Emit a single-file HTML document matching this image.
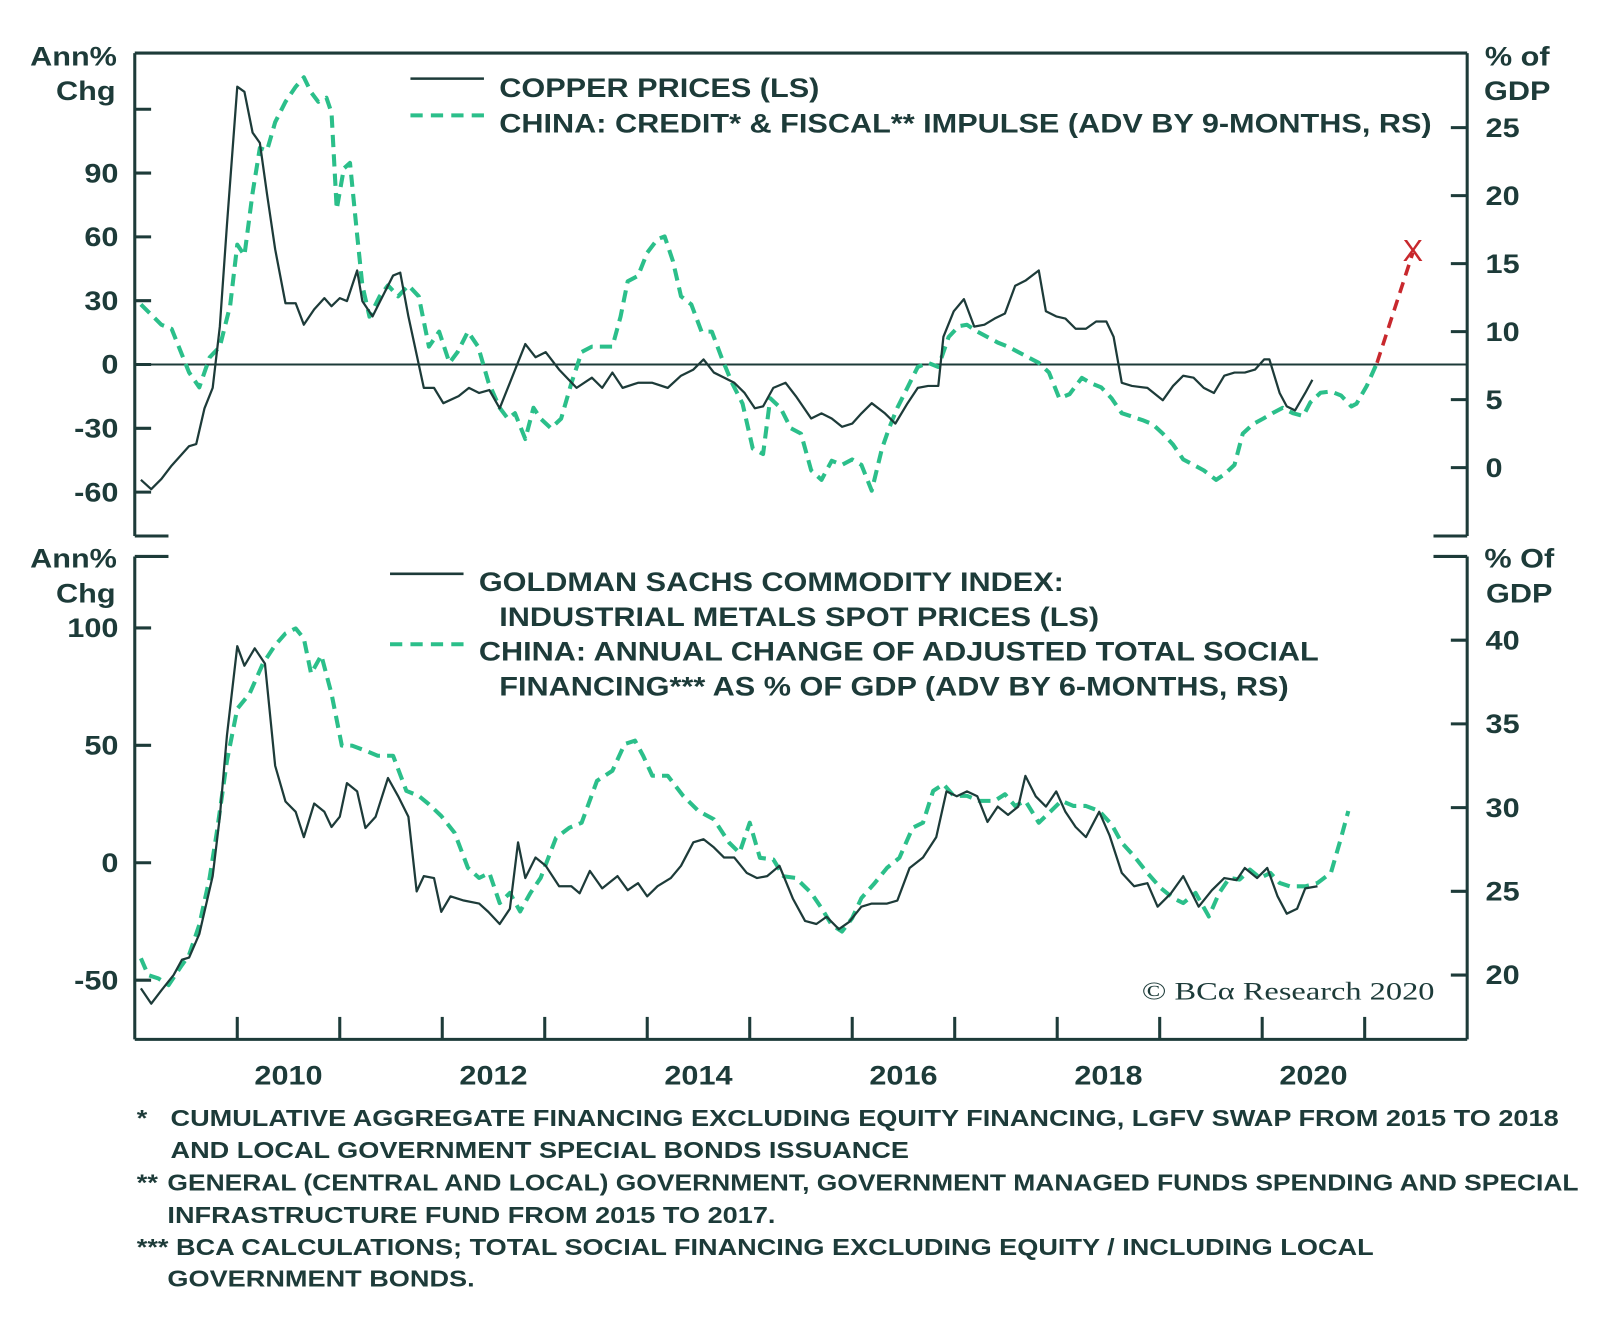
<!DOCTYPE html>
<html><head><meta charset="utf-8"><style>
html,body{margin:0;padding:0;background:#fff;}
svg text{font-family:"Liberation Sans",sans-serif;fill:#1d3b39;font-weight:bold;}
</style></head><body>
<svg id="c" width="1600" height="1314" viewBox="0 0 1600 1314" xmlns="http://www.w3.org/2000/svg">
<g transform="scale(1.021)">
<g id="frame"></g>
<g id="marks"></g>
<g id="labels">
<text x="72" y="64" font-size="26" text-anchor="middle">Ann%</text>
<text x="84" y="98" font-size="26" text-anchor="middle">Chg</text>
<text x="1486" y="64" font-size="26" text-anchor="middle">% of</text>
<text x="1486" y="98" font-size="26" text-anchor="middle">GDP</text>
<text x="72" y="556" font-size="26" text-anchor="middle">Ann%</text>
<text x="84" y="590" font-size="26" text-anchor="middle">Chg</text>
<text x="1488" y="556" font-size="26" text-anchor="middle">% Of</text>
<text x="1488" y="590" font-size="26" text-anchor="middle">GDP</text>
<line x1="402" y1="77" x2="474" y2="77" stroke="#1d3b39" stroke-width="2.5"/>
<line x1="402" y1="113" x2="474" y2="113" stroke="#2bbf8a" stroke-width="4" stroke-dasharray="12,8"/>
<text x="489" y="95" font-size="26">COPPER PRICES (LS)</text>
<text x="489" y="130" font-size="26">CHINA: CREDIT* &amp; FISCAL** IMPULSE (ADV BY 9-MONTHS, RS)</text>
<line x1="382" y1="562" x2="454" y2="562" stroke="#1d3b39" stroke-width="2.5"/>
<line x1="382" y1="631" x2="454" y2="631" stroke="#2bbf8a" stroke-width="4" stroke-dasharray="12,8"/>
<text x="469" y="579" font-size="26">GOLDMAN SACHS COMMODITY INDEX:</text>
<text x="489" y="613" font-size="26">INDUSTRIAL METALS SPOT PRICES (LS)</text>
<text x="469" y="647" font-size="26">CHINA: ANNUAL CHANGE OF ADJUSTED TOTAL SOCIAL</text>
<text x="489" y="681" font-size="26">FINANCING*** AS % OF GDP (ADV BY 6-MONTHS, RS)</text>
<text id="copy" x="1405" y="979" font-size="25" text-anchor="end" style="font-family:'Liberation Serif',serif;font-weight:normal">© BCα Research 2020</text>
<text x="134" y="1103" font-size="23">*</text>
<text x="167" y="1103" font-size="23">CUMULATIVE AGGREGATE FINANCING EXCLUDING EQUITY FINANCING, LGFV SWAP FROM 2015 TO 2018</text>
<text x="167" y="1134" font-size="23">AND LOCAL GOVERNMENT SPECIAL BONDS ISSUANCE</text>
<text x="134" y="1166" font-size="23">**</text>
<text id="fn2" x="164" y="1166" font-size="23">GENERAL (CENTRAL AND LOCAL) GOVERNMENT, GOVERNMENT MANAGED FUNDS SPENDING AND SPECIAL</text>
<text x="164" y="1198" font-size="23">INFRASTRUCTURE FUND FROM 2015 TO 2017.</text>
<text x="134" y="1229" font-size="23">*** BCA CALCULATIONS; TOTAL SOCIAL FINANCING EXCLUDING EQUITY / INCLUDING LOCAL</text>
<text x="164" y="1260" font-size="23">GOVERNMENT BONDS.</text>
</g>
</g>
</svg>
<script>
const copperDates=[2009.06,2009.16,2009.26,2009.36,2009.53,2009.60,2009.68,2009.76,2009.83,2009.90,2010.00,2010.07,2010.15,2010.22,2010.29,2010.37,2010.47,2010.57,2010.65,2010.75,2010.85,2010.92,2011.00,2011.07,2011.17,2011.22,2011.32,2011.42,2011.52,2011.59,2011.67,2011.82,2011.92,2012.01,2012.16,2012.26,2012.36,2012.46,2012.56,2012.66,2012.81,2012.91,2013.01,2013.14,2013.31,2013.46,2013.56,2013.66,2013.76,2013.91,2014.05,2014.20,2014.33,2014.45,2014.55,2014.65,2014.75,2014.85,2014.95,2015.05,2015.13,2015.23,2015.35,2015.45,2015.60,2015.70,2015.80,2015.90,2016.00,2016.09,2016.19,2016.32,2016.42,2016.54,2016.64,2016.74,2016.84,2016.89,2016.99,2017.09,2017.19,2017.29,2017.39,2017.49,2017.59,2017.69,2017.82,2017.89,2017.99,2018.08,2018.18,2018.28,2018.38,2018.48,2018.55,2018.63,2018.73,2018.88,2019.03,2019.13,2019.23,2019.33,2019.43,2019.53,2019.63,2019.73,2019.83,2019.93,2020.02,2020.07,2020.17,2020.24,2020.32,2020.42,2020.49];
const copperValues=[-54.2,-58.6,-53.8,-47.5,-38.4,-37.4,-20.6,-11.0,17.8,65.8,130.6,128.2,109.0,104.2,80.2,54.2,28.8,28.8,18.7,25.9,31.2,27.4,31.2,29.8,44.2,29.8,22.6,32.2,41.8,43.2,22.6,-11.0,-11.0,-18.2,-14.9,-11.0,-13.4,-12.0,-20.6,-8.6,9.6,3.4,5.8,-2.4,-11.0,-6.2,-11.0,-3.8,-11.0,-8.6,-8.6,-11.0,-5.3,-2.4,2.4,-3.8,-6.2,-8.6,-13.4,-20.6,-19.7,-11.0,-8.6,-14.9,-25.4,-23.0,-25.4,-29.3,-27.8,-23.0,-18.2,-23.0,-27.8,-18.2,-11.0,-10.1,-10.1,13.0,25.0,30.7,17.8,18.7,21.6,24.0,37.0,39.4,44.2,25.0,22.6,21.6,16.8,16.8,20.2,20.2,13.0,-8.6,-10.1,-11.0,-16.8,-10.1,-5.3,-6.2,-11.0,-13.4,-5.3,-3.8,-3.8,-2.4,2.4,2.4,-13.4,-19.7,-21.6,-13.4,-7.2];
const impulseDates=[2009.06,2009.26,2009.36,2009.53,2009.63,2009.73,2009.83,2009.93,2010.00,2010.07,2010.15,2010.22,2010.29,2010.37,2010.47,2010.57,2010.65,2010.72,2010.79,2010.87,2010.92,2010.97,2011.04,2011.10,2011.17,2011.22,2011.29,2011.39,2011.47,2011.57,2011.67,2011.77,2011.87,2011.97,2012.07,2012.15,2012.25,2012.35,2012.45,2012.56,2012.64,2012.71,2012.81,2012.89,2012.96,2013.06,2013.16,2013.26,2013.36,2013.46,2013.66,2013.74,2013.81,2013.91,2014.00,2014.10,2014.17,2014.25,2014.33,2014.43,2014.53,2014.63,2014.73,2014.83,2014.93,2015.03,2015.13,2015.20,2015.30,2015.40,2015.50,2015.60,2015.70,2015.80,2015.90,2016.00,2016.09,2016.19,2016.29,2016.36,2016.44,2016.54,2016.64,2016.74,2016.84,2016.94,2017.04,2017.12,2017.22,2017.32,2017.42,2017.52,2017.62,2017.72,2017.82,2017.92,2018.02,2018.12,2018.24,2018.33,2018.43,2018.53,2018.63,2018.83,2018.93,2019.03,2019.13,2019.23,2019.33,2019.43,2019.55,2019.63,2019.73,2019.81,2019.91,2020.01,2020.10,2020.20,2020.30,2020.40,2020.47,2020.57,2020.67,2020.77,2020.87,2020.92,2021.02,2021.12];
const impulseValues=[12.0,10.5,10.2,7.0,5.9,8.1,8.9,11.9,16.4,15.6,20.2,23.5,23.3,25.4,26.9,28.0,28.7,27.6,26.9,27.2,26.1,19.0,22.0,22.4,17.1,13.4,11.1,12.6,13.4,12.6,13.4,12.6,8.9,10.0,7.7,8.5,10.0,8.9,6.3,4.4,3.6,4.0,2.1,4.4,3.6,2.9,3.6,6.2,8.5,8.9,8.9,11.1,13.7,14.1,15.8,16.8,17.0,15.2,12.6,12.0,10.0,10.0,8.0,6.2,4.7,1.4,1.0,5.1,4.4,2.9,2.5,-0.2,-0.9,0.5,0.2,0.6,0.2,-1.7,1.4,2.9,4.4,5.9,7.4,7.7,7.4,9.6,10.4,10.5,10.0,9.6,9.2,8.9,8.5,8.1,7.7,7.0,5.1,5.4,6.6,6.2,5.9,5.1,4.0,3.5,3.2,2.5,1.7,0.6,0.2,-0.2,-0.9,-0.5,0.2,2.5,3.2,3.6,4.0,4.4,4.0,3.8,4.8,5.5,5.6,5.3,4.5,4.7,6.0,7.7];
const projectionDates=[2021.12,2021.47];
const projectionValues=[7.7,15.8];
const gsciDates=[2009.06,2009.16,2009.26,2009.38,2009.46,2009.53,2009.63,2009.76,2009.83,2009.90,2010.00,2010.07,2010.17,2010.27,2010.37,2010.47,2010.57,2010.65,2010.75,2010.85,2010.92,2011.00,2011.07,2011.17,2011.25,2011.35,2011.47,2011.57,2011.67,2011.75,2011.82,2011.92,2011.99,2012.08,2012.21,2012.36,2012.45,2012.56,2012.66,2012.74,2012.81,2012.91,2013.01,2013.14,2013.26,2013.34,2013.44,2013.56,2013.71,2013.81,2013.91,2014.00,2014.10,2014.23,2014.33,2014.45,2014.55,2014.65,2014.75,2014.85,2014.97,2015.07,2015.17,2015.29,2015.42,2015.54,2015.65,2015.75,2015.87,2015.97,2016.09,2016.19,2016.34,2016.44,2016.56,2016.69,2016.82,2016.92,2017.02,2017.12,2017.22,2017.32,2017.42,2017.52,2017.62,2017.69,2017.79,2017.89,2017.99,2018.08,2018.18,2018.28,2018.41,2018.51,2018.63,2018.75,2018.88,2018.98,2019.11,2019.23,2019.38,2019.51,2019.63,2019.75,2019.83,2019.95,2020.05,2020.15,2020.24,2020.34,2020.42,2020.54];
const gsciValues=[-53.5,-60,-54.3,-47.8,-41.3,-40.4,-30.4,-5.7,19.6,54.3,92.2,83.9,91.3,84.8,41.3,26.1,21.7,10.9,25.2,21.7,15.2,19.6,33.9,30.4,14.8,19.6,36.1,28.3,19.6,-12.2,-5.7,-6.5,-20.9,-14.3,-16.1,-17.4,-20.9,-26.1,-19.6,8.7,-6.5,2.2,-1.3,-10.0,-10.0,-13.0,-3.5,-10.9,-5.7,-11.7,-8.7,-14.3,-10.0,-6.5,-1.3,8.7,10.0,6.5,2.2,2.2,-4.3,-6.5,-5.7,-1.3,-15.2,-24.8,-26.1,-23.0,-28.3,-25.2,-18.7,-17.4,-17.4,-16.1,-2.2,2.2,10.9,30.4,28.3,30.4,28.3,17.4,23.9,20.4,23.9,37.0,28.3,23.9,30.4,21.7,15.2,10.9,21.7,11.7,-4.3,-10.0,-8.7,-18.7,-13.0,-5.7,-18.7,-11.7,-6.5,-7.4,-2.2,-6.5,-2.2,-14.3,-21.7,-19.6,-10.9,-10.0];
const tsfDates=[2009.06,2009.13,2009.23,2009.33,2009.46,2009.53,2009.63,2009.73,2009.80,2009.90,2010.00,2010.12,2010.25,2010.37,2010.47,2010.57,2010.65,2010.72,2010.82,2010.92,2011.02,2011.12,2011.25,2011.37,2011.52,2011.65,2011.77,2011.87,2011.99,2012.12,2012.25,2012.36,2012.46,2012.56,2012.66,2012.76,2012.86,2012.96,2013.11,2013.24,2013.36,2013.51,2013.66,2013.78,2013.88,2013.96,2014.05,2014.20,2014.35,2014.50,2014.65,2014.80,2014.90,2015.00,2015.10,2015.23,2015.33,2015.45,2015.60,2015.70,2015.80,2015.90,2016.00,2016.09,2016.22,2016.34,2016.46,2016.59,2016.69,2016.79,2016.89,2016.99,2017.12,2017.24,2017.39,2017.49,2017.59,2017.69,2017.82,2017.94,2018.04,2018.16,2018.28,2018.41,2018.53,2018.63,2018.75,2018.88,2019.01,2019.13,2019.23,2019.35,2019.48,2019.58,2019.68,2019.78,2019.88,2019.98,2020.08,2020.17,2020.27,2020.42,2020.54,2020.67,2020.77,2020.84];
const tsfValues=[21.0,20.0,19.8,19.4,20.6,21.2,23.0,25.8,28.5,32.8,35.9,36.8,38.6,39.7,40.4,40.7,40.1,38.0,39.1,36.8,33.7,33.7,33.4,33.1,33.1,31.0,30.7,30.2,29.5,28.5,26.4,25.8,26.1,24.3,24.9,23.8,24.9,25.8,28.2,28.8,29.1,31.6,32.2,33.8,34.0,33.1,31.9,31.9,30.7,29.8,29.3,27.9,27.3,29.1,27.0,26.9,25.9,25.8,24.9,24.0,23.0,22.6,23.4,24.6,25.5,26.4,27.0,28.8,29.1,31.0,31.4,30.7,30.7,30.4,30.4,30.8,30.1,30.4,29.1,29.8,30.4,30.1,30.1,29.8,29.0,27.9,27.1,26.1,25.2,24.6,24.3,24.9,23.5,24.9,25.8,25.7,26.3,25.8,26.1,25.5,25.3,25.3,25.5,26.1,28.2,29.8];
const yearLabels=["2010","2012","2014","2016","2018","2020"];
const topLeftTicks=[-60,-30,0,30,60,90];
const topRightTicks=[0,5,10,15,20,25];
const botLeftTicks=[-50,0,50,100];
const botRightTicks=[20,25,30,35,40];

const NS="http://www.w3.org/2000/svg";
const X0=132,X1=1437,T0=2009,T1=2022;
const xs=d=>X0+(d-T0)*(X1-X0)/(T1-T0);
const yTL=v=>357-v*2.0833, yTR=v=>458-v*13.32;
const yBL=v=>845-v*2.3, yBR=v=>873-(v-25)*16.4;
const C="#1d3b39",G="#2bbf8a";
const frame=document.getElementById('frame'),marks=document.getElementById('marks');
function mk(tag,attrs,parent){const e=document.createElementNS(NS,tag);for(const k in attrs)e.setAttribute(k,attrs[k]);parent.appendChild(e);return e;}
function ln(x1,y1,x2,y2,w,name){const e=mk('line',{x1,y1,x2,y2,stroke:C,'stroke-width':w},frame);

return e;}
ln(X0,52,X1,52,3,'top-panel-top');ln(X0,52,X0,525,3,'top-left-axis');ln(X1,52,X1,525,3,'top-right-axis');
ln(X0,525,X0+33,525,3,'top-corner-l');ln(X1-33,525,X1,525,3,'top-corner-r');
ln(X0,yTL(0),X1,yTL(0),2,'zero-line-top');
ln(X0,545,X0+33,545,3,'bot-corner-l');ln(X1-33,545,X1,545,3,'bot-corner-r');
ln(X0,545,X0,1018,3,'bottom-left-axis');ln(X1,545,X1,1018,3,'bottom-right-axis');ln(X0,1018,X1,1018,3,'x-axis');
function txt(x,y,s,anchor,name){const e=mk('text',{x,y,'font-size':26,'text-anchor':anchor},frame);e.textContent=s;

}
[...topLeftTicks,120].forEach(v=>{ln(X0,yTL(v),X0+16,yTL(v),3,'tick');});
topLeftTicks.forEach(v=>txt(116,yTL(v)+9,String(v),'end','top-left-tick-label'));
topRightTicks.forEach(v=>{ln(X1-16,yTR(v),X1,yTR(v),3,'tick');txt(1455,yTR(v)+9,String(v),'start','top-right-tick-label');});
botLeftTicks.forEach(v=>{ln(X0,yBL(v),X0+16,yBL(v),3,'tick');txt(116,yBL(v)+9,String(v),'end','bottom-left-tick-label');});
botRightTicks.forEach(v=>{ln(X1-16,yBR(v),X1,yBR(v),3,'tick');txt(1455,yBR(v)+9,String(v),'start','bottom-right-tick-label');});
for(let y=T0+1;y<T1;y++){ln(xs(y),1018,xs(y),996,3,'x-tick');}
yearLabels.forEach(s=>txt(xs(+s+0.5),1062,s,'middle','x-tick-label'));
function series(dates,vals,yf,color,w,dash,name){
 const d=dates.map((t,i)=>(i?'L':'M')+xs(t).toFixed(1)+','+yf(vals[i]).toFixed(1)).join('');
 const p=mk('path',{d,fill:'none',stroke:color,'stroke-width':w,'stroke-linejoin':'round'},marks);
 if(dash)p.setAttribute('stroke-dasharray',dash);
 
 }
series(impulseDates,impulseValues,yTR,G,4,'12,7','impulse-line');
series(projectionDates,projectionValues,yTR,'#c8282d',3.5,'11,7','projection-line');
series(copperDates,copperValues,yTL,C,2.2,null,'copper-line');
series(tsfDates,tsfValues,yBR,G,4,'12,7','tsf-line');
series(gsciDates,gsciValues,yBL,C,2.2,null,'gsci-line');
const xm=mk('text',{x:xs(projectionDates[1]),y:yTR(projectionValues[1])+8,'font-size':30,'text-anchor':'middle',style:'fill:#c8282d;font-weight:normal'},marks);
xm.textContent='X';


document.querySelectorAll('#frame text, #labels text').forEach(t=>{
  const f=t.id==='copy'?1.27:(t.id==='fn2'?1.125:1.155);
  const L=t.getComputedTextLength();
  if(L>0){t.setAttribute('textLength',(L*f).toFixed(1));t.setAttribute('lengthAdjust','spacingAndGlyphs');}
});
</script>
</body></html>
